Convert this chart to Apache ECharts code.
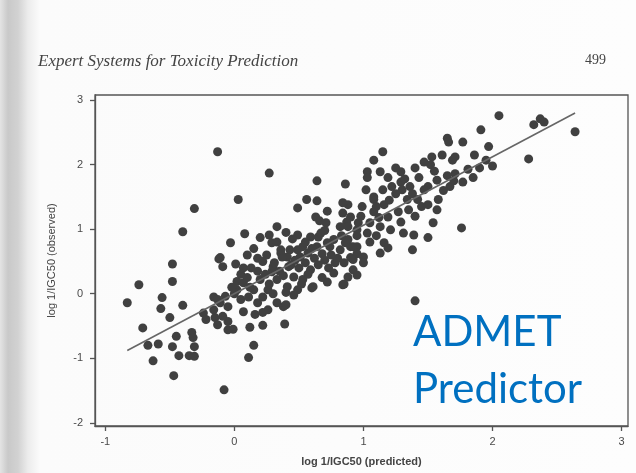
<!DOCTYPE html>
<html>
<head>
<meta charset="utf-8">
<script src="https://cdn.jsdelivr.net/npm/echarts@6/dist/echarts.min.js"></script>
<style>
html,body{margin:0;padding:0;width:636px;height:473px;overflow:hidden;}
body{background:linear-gradient(to right,#e4e4e4 0px,#c9c9c9 8px,#d2d2d2 18px,#ececec 28px,#fbfbfb 40px,#fdfdfd 100%);}
#chart{width:636px;height:473px;}
</style>
</head>
<body>
<div id="chart"></div>
<script>
// log 1/IGC50 (predicted) values
const predicted = [
-0.48,-0.74,-0.48,-0.83,-0.56,-0.57,-0.40,-0.50,-0.71,-0.67,-0.59,-0.45,-0.48,-0.43,-0.63,-0.47,-0.33,-0.32,-0.31,-0.35,
-0.31,-0.08,-0.24,-0.22,-0.15,-0.13,-0.05,-0.05,-0.01,-0.16,-0.11,-0.07,-0.12,-0.09,0.01,0.02,0.11,0.15,0.12,0.22,
0.39,0.38,0.40,0.16,0.22,0.07,0.60,0.84,0.95,0.77,
-0.13,0.27,0.64,0.86,0.03,-0.31,-0.40,-0.03,0.08,0.33,0.20,0.27,0.29,0.49,0.56,0.64,0.72,0.63,0.66,0.71,
0.49,0.88,0.84,0.87,0.82,-0.11,0.07,0.13,0.22,0.29,0.36,0.41,0.49,0.57,0.65,0.64,0.74,0.78,0.90,0.95,
2.05,2.32,2.37,2.40,2.64,2.28,1.91,1.65,1.66,1.77,1.97,1.86,1.95,1.15,1.08,1.47,1.53,1.52,1.61,1.69,
1.71,1.81,1.77,1.71,1.65,1.67,1.57,1.58,1.54,1.76,1.50,1.39,1.38,1.43,1.50,1.50,1.57,1.03,1.03,1.13,
1.19,1.29,1.29,1.02,1.08,1.15,1.22,1.30,1.36,1.47,0.84,0.90,0.99,1.08,1.08,1.16,1.19,1.27,1.34,1.42,
0.96,0.88,1.03,1.13,1.21,1.29,1.31,0.86,0.95,1.16,1.19,1.13,1.00,0.90,0.92,0.88,1.00,0.85,1.40,
0.33,0.30,0.37,0.43,0.36,0.42,0.51,0.53,0.59,0.67,0.72,0.77,0.82,0.88,0.92,0.85,0.92,0.59,0.61,0.53,
0.46,0.49,0.41,0.33,0.26,0.20,0.15,0.07,0.02,0.05,0.11,0.18,0.22,0.26,0.33,-0.05,-0.13,-0.16,-0.09,
0.05,0.10,0.12,0.18,0.24,0.27,0.31,0.35,0.38,0.44,0.47,0.50,0.55,0.57,0.62,0.65,0.68,0.70,0.73,0.75,
0.80,0.83,0.70,0.60,0.55,0.45,0.40,0.15,0.10,0.25,0.18,0.00,-0.02,0.30,0.40,0.46,0.52,0.68,0.72,0.95,
0.98,1.05,1.10,1.12,1.20,1.25,1.35,1.40,1.45,1.38,1.32,1.25,1.40,1.55,1.62,1.70,1.85,1.90,2.00,1.05,
1.10,0.95
];
// log 1/IGC50 (observed) values
const observed = [
0.46,0.14,0.19,-0.14,-0.06,-0.23,-0.18,-0.37,-0.53,-0.80,-0.78,-0.66,-0.82,-0.96,-1.04,-1.27,-0.60,-0.68,-0.82,-0.96,
-0.97,-1.49,-0.30,-0.40,-0.37,-0.48,-0.43,-0.56,-0.55,-0.05,-0.14,-0.04,0.54,0.42,0.46,0.19,-0.99,-0.80,-0.52,-0.49,
-0.47,-0.20,-0.17,-0.32,-0.29,-0.28,0.09,0.14,0.29,0.32,
2.20,1.87,1.75,1.70,1.46,1.32,0.96,0.79,0.93,1.04,0.87,0.91,0.79,1.33,1.46,1.44,1.28,1.19,1.13,1.10,
0.91,1.38,1.25,1.11,1.04,0.56,0.40,0.40,0.50,0.34,0.63,0.57,0.68,0.63,0.88,0.73,0.73,0.48,0.73,0.99,
2.76,2.62,2.71,2.66,2.51,2.09,2.54,2.41,2.35,2.35,2.28,2.15,2.07,2.20,2.07,2.04,2.12,2.00,2.15,2.07,
2.12,1.93,1.73,1.86,1.83,1.66,1.76,1.46,1.10,1.02,0.87,0.91,0.68,1.80,1.66,1.38,1.30,1.89,1.80,1.89,
1.80,1.89,1.73,1.61,1.50,1.61,1.66,1.61,1.66,1.61,1.41,1.19,1.35,1.46,1.27,1.38,1.19,1.27,1.46,1.46,
1.10,1.04,0.94,1.04,0.99,1.11,0.94,0.79,0.73,0.79,0.71,0.63,0.57,0.56,0.37,0.26,0.48,0.15,-0.11,
0.80,0.42,0.57,0.68,0.68,0.42,0.57,0.73,0.88,0.94,0.79,0.84,0.68,0.84,0.73,0.48,0.53,0.37,0.11,0.22,
0.26,0.06,0.11,0.22,0.06,0.22,0.06,0.17,0.06,-0.09,-0.05,-0.14,-0.05,-0.25,-0.14,-0.20,-0.09,-0.25,-0.35,
0.30,0.25,0.10,0.35,0.30,0.15,0.48,0.35,0.28,0.45,0.52,0.40,0.48,0.30,0.55,0.45,0.62,0.52,0.40,0.60,
0.55,0.90,0.98,0.70,0.80,0.85,0.95,0.70,0.60,0.60,0.55,0.00,0.10,0.00,0.02,-0.02,0.15,0.25,0.18,0.90,
1.20,1.10,1.35,1.18,1.45,1.55,1.30,1.20,1.35,1.55,1.78,1.95,1.95,1.90,1.60,1.75,1.80,1.95,1.98,0.80,
0.90,0.62
];
// regression line end points
const fitX = [-0.83, 2.64];
const fitY = [-0.88, 2.80];
// tick labels
const xTicks = [-1, 0, 1, 2, 3];
const yTicks = [-2, -1, 0, 1, 2, 3];

const points = predicted.map((x, i) => [x, observed[i]]);
const fitLine = fitX.map((x, i) => [x, fitY[i]]);

const chart = echarts.init(document.getElementById('chart'), null, {renderer: 'canvas'});
const axisColor = '#555';
const labelStyle = {color: '#4a4a4a', fontFamily: 'Liberation Sans, Arial, sans-serif', fontSize: 11};
chart.setOption({
  animation: false,
  backgroundColor: 'transparent',
  grid: {left: 95, top: 95, right: 8, bottom: 47, show: true, borderColor: axisColor, borderWidth: 1.3, backgroundColor: 'transparent'},
  xAxis: {
    type: 'value', min: -1.08, max: 3.05,
    axisLine: {show: true, onZero: false, lineStyle: {color: axisColor, width: 1.3}},
    axisTick: {show: true, inside: false, customValues: xTicks, length: 5, lineStyle: {color: axisColor, width: 1.3}},
    axisLabel: Object.assign({customValues: xTicks, margin: 10}, labelStyle),
    splitLine: {show: false},
    name: 'log 1/IGC50 (predicted)', nameLocation: 'middle', nameGap: 30,
    nameTextStyle: {color: '#444', fontFamily: 'Liberation Sans, Arial, sans-serif', fontSize: 11, fontWeight: 'bold'}
  },
  yAxis: {
    type: 'value', min: -2.05, max: 3.08,
    axisLine: {show: true, onZero: false, lineStyle: {color: axisColor, width: 1.3}},
    axisTick: {show: true, inside: false, customValues: yTicks, length: 5, lineStyle: {color: axisColor, width: 1.3}},
    axisLabel: Object.assign({customValues: yTicks, margin: 12}, labelStyle),
    splitLine: {show: false},
    name: 'log 1/IGC50 (observed)', nameLocation: 'middle', nameGap: 38,
    nameTextStyle: {color: '#444', fontFamily: 'Liberation Sans, Arial, sans-serif', fontSize: 11}
  },
  series: [
    {type: 'scatter', data: points, symbol: 'circle', symbolSize: 9,
     itemStyle: {color: '#404040', opacity: 1}, z: 2},
    {type: 'line', data: fitLine, showSymbol: false, symbol: 'none',
     lineStyle: {color: '#666', width: 1.6}, z: 3}
  ],
  graphic: [
    {type: 'text', left: 38, top: 53, style: {text: 'Expert Systems for Toxicity Prediction', font: 'italic 17px "Liberation Serif", serif', fill: '#444'}},
    {type: 'text', left: 585, top: 53, style: {text: '499', font: '14px "Liberation Serif", serif', fill: '#444'}},
    {type: 'text', x: 413, y: 332, style: {text: 'ADMET', font: '42px Lato', fill: '#0070C0', verticalAlign: 'middle'}},
    {type: 'text', x: 413, y: 389, style: {text: 'Predictor', font: '42px Lato', fill: '#0070C0', verticalAlign: 'middle'}}
  ]
});
</script>
</body>
</html>
